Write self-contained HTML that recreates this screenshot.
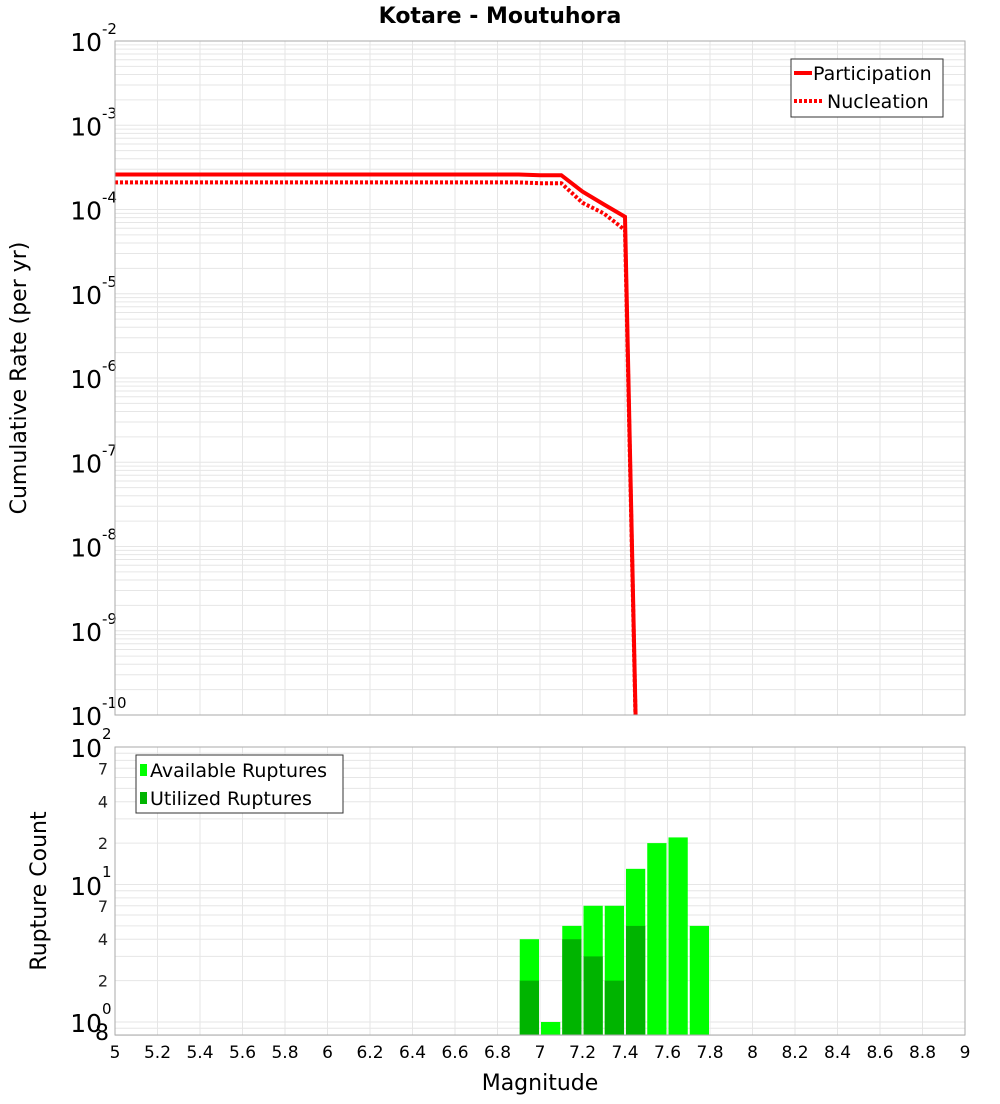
<!DOCTYPE html>
<html><head><meta charset="utf-8"><style>
body{margin:0;background:#fff;font-family:"DejaVu Sans","Liberation Sans",sans-serif}
svg text{font-family:"DejaVu Sans","Liberation Sans",sans-serif}
</style></head><body>
<svg id="c" width="1000" height="1100" xmlns="http://www.w3.org/2000/svg">
<text x="500" y="23" text-anchor="middle" font-size="22" font-weight="bold">Kotare - Moutuhora</text>
<g id="topG"></g>
<g id="botG"></g>
<text transform="translate(26,378) rotate(-90)" text-anchor="middle" font-size="22">Cumulative Rate (per yr)</text>
<text transform="translate(46,891) rotate(-90)" text-anchor="middle" font-size="22">Rupture Count</text>
<text x="540" y="1090" text-anchor="middle" font-size="22">Magnitude</text>
<g id="legs"></g>
</svg>
<script>
const mags=[5.0,6.9,7.0,7.1,7.2,7.3,7.4,7.5];
const participation=[2.6e-4,2.6e-4,2.55e-4,2.55e-4,1.63e-4,1.15e-4,8.2e-5,1e-16];
const nucleation=[2.1e-4,2.1e-4,2.05e-4,2.05e-4,1.2e-4,9e-5,5.7e-5,1e-16];
const binCenters=[6.95,7.05,7.15,7.25,7.35,7.45,7.55,7.65,7.75];
const available=[4,1,5,7,7,13,20,22,5];
const utilized=[2,0,4,3,2,5,0,0,0];
const xTicks=["5","5.2","5.4","5.6","5.8","6","6.2","6.4","6.6","6.8","7","7.2","7.4","7.6","7.8","8","8.2","8.4","8.6","8.8","9"];
const topDecades=[-2,-3,-4,-5,-6,-7,-8,-9,-10];
const botTickLabels=["7","4","2","7","4","2"];
const botTickValues=[70,40,20,7,4,2];

{
const NS="http://www.w3.org/2000/svg";
const L=115,R=965,T1=41,B1=715,T2=747,B2=1035;
const X=m=>L+(m-5)/4*(R-L);
const Y1=v=>T1+(-2-Math.log10(v))/8*(B1-T1);
const Y2=v=>747+(2-Math.log10(v))*137.5;
function mk(p,t,a){const e=document.createElementNS(NS,t);for(const k in a)e.setAttribute(k,a[k]);p.appendChild(e);return e;}
const topG=document.getElementById('topG'),botG=document.getElementById('botG');
for(let d=-10;d<-2;d++)for(let k=1;k<10;k++){const y=Y1(k*Math.pow(10,d));
const g=mk(topG,'line',{x1:L,x2:R,y1:y,y2:y,stroke:'#e6e6e6','stroke-width':1});

}
for(let i=0;i<xTicks.length;i++){const x=X(+xTicks[i]);
mk(topG,'line',{x1:x,x2:x,y1:T1,y2:B1,stroke:'#e6e6e6'});
mk(botG,'line',{x1:x,x2:x,y1:T2,y2:B2,stroke:'#e6e6e6'});
const t=mk(botG,'text',{x:x,y:1058,'text-anchor':'middle','font-size':17});
t.textContent=xTicks[i];

}
for(let d=-1;d<2;d++)for(let k=1;k<10;k++){const v=k*Math.pow(10,d);if(v<0.8)continue;const y=Y2(v);
mk(botG,'line',{x1:L,x2:R,y1:y,y2:y,stroke:'#e6e6e6'});}
topDecades.forEach(d=>{const y=Y1(Math.pow(10,d));
const t=mk(topG,'text',{x:102,y:y+10,'text-anchor':'end','font-size':25});t.textContent='10';


const e=mk(topG,'text',{x:102,y:y-7,'font-size':15});e.textContent=String(d);});
[[2,747],[1,885],[0,1022]].forEach(([d,y])=>{
const t=mk(botG,'text',{x:102,y:y+10,'text-anchor':'end','font-size':25});t.textContent='10';


const e=mk(botG,'text',{x:102,y:y-8,'font-size':15});e.textContent=String(d);});
botTickValues.forEach((v,i)=>{const t=mk(botG,'text',{x:108,y:Y2(v)+6,'text-anchor':'end','font-size':16,fill:'#222'});t.textContent=botTickLabels[i];});
const eight=mk(botG,'text',{x:95,y:1040,'font-size':22});eight.textContent='8';
const clip=mk(topG,'clipPath',{id:'cp'});mk(clip,'rect',{x:L,y:T1,width:R-L,height:B1-T1});
function path(arr){return arr.map((v,i)=>(i?'L':'M')+X(mags[i]).toFixed(1)+','+Y1(v).toFixed(1)).join('');}
const p1=mk(topG,'path',{d:path(participation),fill:'none',stroke:'#f00','stroke-width':4,'clip-path':'url(#cp)'});


const p2=mk(topG,'path',{d:path(nucleation),fill:'none',stroke:'#f00','stroke-width':4,'stroke-dasharray':'3,2','clip-path':'url(#cp)'});


const bw=(X(0.1)-X(0))-2;
binCenters.forEach((m,i)=>{const x=X(m)-bw/2;
if(available[i]>0){const b=mk(botG,'rect',{x:x,y:Y2(available[i]),width:bw,height:B2-Y2(available[i]),fill:'#00ff00'});

}
if(utilized[i]>0){const b=mk(botG,'rect',{x:x,y:Y2(utilized[i]),width:bw,height:B2-Y2(utilized[i]),fill:'#00b400'});

}});
mk(topG,'rect',{x:L,y:T1,width:R-L,height:B1-T1,fill:'none',stroke:'#aaa'});
mk(botG,'rect',{x:L,y:T2,width:R-L,height:B2-T2,fill:'none',stroke:'#aaa'});
const legs=document.getElementById('legs');
legs.innerHTML='<g><rect x="791" y="59" width="152" height="58" fill="#fff" stroke="#333"/><line x1="794" y1="73" x2="812" y2="73" stroke="#f00" stroke-width="4"/><text x="813" y="80" font-size="19">Participation</text><line x1="794" y1="101" x2="822" y2="101" stroke="#f00" stroke-width="4" stroke-dasharray="3,2"/><text x="827" y="108" font-size="19">Nucleation</text></g><g><rect x="136" y="755" width="207" height="58" fill="#fff" stroke="#333"/><rect x="140" y="764" width="7" height="12" fill="#00ff00"/><text x="150" y="777" font-size="19">Available Ruptures</text><rect x="140" y="792" width="7" height="12" fill="#00b400"/><text x="150" y="805" font-size="19">Utilized Ruptures</text></g>';
}
</script>
</body></html>
